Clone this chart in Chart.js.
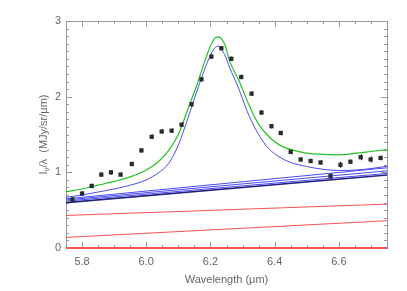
<!DOCTYPE html>
<html>
<head>
<meta charset="utf-8">
<script src="https://cdn.jsdelivr.net/npm/chart.js@4.4.1/dist/chart.umd.min.js"></script>
<style>
  html, body { margin: 0; padding: 0; background: #fff; }
  canvas { display: block; }
</style>
</head>
<body>
<canvas id="grafica" width="407" height="291"></canvas>
<script>
// observed spectrum (black squares)
const wl = [5.77, 5.80, 5.83, 5.86, 5.89, 5.92, 5.955, 5.985, 6.017, 6.048, 6.079, 6.11, 6.141, 6.172, 6.203, 6.234,
            6.265, 6.296, 6.328, 6.359, 6.39, 6.419, 6.45, 6.481, 6.512, 6.543, 6.574, 6.605, 6.636, 6.668, 6.699, 6.73];
const flux = [0.64, 0.72, 0.82, 0.97, 1.00, 0.97, 1.11, 1.29, 1.47, 1.54, 1.55, 1.63, 1.90, 2.23, 2.53, 2.64,
              2.50, 2.26, 2.04, 1.79, 1.61, 1.52, 1.27, 1.17, 1.15, 1.13, 0.95, 1.10, 1.14, 1.20, 1.17, 1.19];
const fluxErr = [0.03, 0.03, 0.03, 0.03, 0.03, 0.03, 0.03, 0.03, 0.03, 0.03, 0.03, 0.03, 0.03, 0.03, 0.03, 0.03,
                 0.03, 0.03, 0.03, 0.03, 0.03, 0.03, 0.03, 0.03, 0.03, 0.03, 0.04, 0.04, 0.03, 0.04, 0.04, 0.03];

// total model (green)
const totalWl = [5.75, 5.80, 5.85, 5.90, 5.95, 6.00, 6.04, 6.07, 6.10, 6.13, 6.16, 6.18, 6.20, 6.215, 6.225, 6.235,
                 6.245, 6.26, 6.29, 6.318, 6.348, 6.39, 6.42, 6.46, 6.50, 6.55, 6.60, 6.65, 6.70, 6.75];
const totalFlux = [0.745, 0.78, 0.83, 0.88, 0.94, 1.03, 1.15, 1.29, 1.50, 1.84, 2.18, 2.44, 2.67, 2.78, 2.79, 2.76,
                   2.69, 2.47, 2.20, 1.91, 1.65, 1.44, 1.35, 1.29, 1.255, 1.237, 1.232, 1.25, 1.275, 1.30];

// 6.2 um feature + continuum (blue)
const featWl = [5.75, 5.80, 5.85, 5.90, 5.95, 6.00, 6.04, 6.07, 6.10, 6.13, 6.16, 6.18, 6.20, 6.215, 6.225, 6.235,
                6.245, 6.26, 6.285, 6.30, 6.32, 6.35, 6.38, 6.42, 6.45, 6.50, 6.55, 6.60, 6.65, 6.70, 6.75];
const featFlux = [0.67, 0.70, 0.74, 0.78, 0.83, 0.90, 1.00, 1.12, 1.36, 1.72, 2.10, 2.34, 2.55, 2.65, 2.67, 2.62,
                  2.55, 2.38, 2.14, 1.97, 1.75, 1.50, 1.32, 1.19, 1.13, 1.077, 1.04, 1.025, 1.03, 1.05, 1.08];

// straight continuum components: value at 5.75 and at 6.75
const contStart = [0.65, 0.635, 0.62, 0.60];
const contEnd = [1.06, 1.02, 0.985, 0.965];
const redStart = [0.43, 0.14, 0.0];
const redEnd = [0.58, 0.36, 0.0];

const xMin = 5.75, xMax = 6.75;

function pares(xs, ys) {
    return xs.map((x, i) => ({ x: x, y: ys[i] }));
}

let datasets = [];
datasets.push({
    label: 'Observado',
    data: pares(wl, flux),
    showLine: false,
    pointStyle: 'rect',
    pointRadius: 3,
    backgroundColor: '#2a2a2a',
    borderColor: '#2a2a2a',
    borderWidth: 0
});
datasets.push({
    label: 'Total',
    data: pares(totalWl, totalFlux),
    showLine: true,
    borderColor: '#22c422',
    borderWidth: 1.2,
    pointRadius: 0,
    cubicInterpolationMode: 'monotone'
});
datasets.push({
    label: 'Banda 6.2',
    data: pares(featWl, featFlux),
    showLine: true,
    borderColor: '#4a4af5',
    borderWidth: 1,
    pointRadius: 0,
    cubicInterpolationMode: 'monotone'
});
contStart.forEach((v, i) => {
    let oscuro = i === contStart.length - 1;
    datasets.push({
        label: 'Continuo ' + i,
        data: [{ x: xMin, y: v }, { x: xMax, y: contEnd[i] }],
        showLine: true,
        borderColor: oscuro ? '#22227a' : '#4a4af5',
        borderWidth: oscuro ? 1.6 : 1,
        pointRadius: 0
    });
});
redStart.forEach((v, i) => {
    datasets.push({
        label: 'Rojo ' + i,
        data: [{ x: xMin, y: v }, { x: xMax, y: redEnd[i] }],
        showLine: true,
        borderColor: '#ff5050',
        borderWidth: i === redStart.length - 1 ? 2 : 1,
        pointRadius: 0,
        clip: 2
    });
});

const esMultiplo = (v, paso) => Math.abs(v / paso - Math.round(v / paso)) < 1e-6;

// box, inward ticks (IDL style) and error bars
const marcoPlugin = {
    id: 'marco',
    beforeDatasetsDraw(chart) {
        const ctx = chart.ctx;
        const a = chart.chartArea;
        const xs = chart.scales.x, ys = chart.scales.y;
        ctx.save();
        ctx.strokeStyle = '#999';
        ctx.lineWidth = 1;
        ctx.strokeRect(a.left + 0.5, a.top + 0.5, a.right - a.left, a.bottom - a.top);
        ctx.beginPath();
        for (let k = 0; k <= 20; k++) {
            let v = xMin + k * 0.05;
            let px = Math.round(xs.getPixelForValue(v)) + 0.5;
            let len = esMultiplo(v, 0.2) ? 6 : 3;
            ctx.moveTo(px, a.bottom); ctx.lineTo(px, a.bottom - len);
            ctx.moveTo(px, a.top); ctx.lineTo(px, a.top + len);
        }
        for (let k = 0; k <= 30; k++) {
            let v = k * 0.1;
            let py = Math.round(ys.getPixelForValue(v)) + 0.5;
            let len = k % 10 === 0 ? 6 : 3;
            ctx.moveTo(a.left, py); ctx.lineTo(a.left + len, py);
            ctx.moveTo(a.right, py); ctx.lineTo(a.right - len, py);
        }
        ctx.stroke();
        ctx.restore();
    },
    afterDatasetsDraw(chart) {
        const ctx = chart.ctx;
        const xs = chart.scales.x, ys = chart.scales.y;
        ctx.save();
        ctx.strokeStyle = '#2a2a2a';
        ctx.lineWidth = 1;
        wl.forEach((x, i) => {
            let px = Math.round(xs.getPixelForValue(x)) + 0.5;
            ctx.beginPath();
            ctx.moveTo(px, ys.getPixelForValue(flux[i] - fluxErr[i]));
            ctx.lineTo(px, ys.getPixelForValue(flux[i] + fluxErr[i]));
            ctx.stroke();
        });
        ctx.restore();
    },
    afterDraw(chart) {
        const ctx = chart.ctx;
        const a = chart.chartArea;
        // y title: I_nu / lambda (MJy/sr/um)
        ctx.save();
        ctx.fillStyle = '#666';
        ctx.translate(44, (a.top + a.bottom) / 2);
        ctx.rotate(-Math.PI / 2);
        ctx.textBaseline = 'middle';
        const f1 = '11px "Liberation Sans", Arial, sans-serif';
        const f2 = '8px "Liberation Sans", Arial, sans-serif';
        const piezas = [['I', f1, 0], ['\u03BD', f2, 3], ['/\u03BB  (MJy/sr/\u03BCm)', f1, 0]];
        let total = 0;
        piezas.forEach(p => { ctx.font = p[1]; total += ctx.measureText(p[0]).width; });
        let x = -total / 2;
        piezas.forEach(p => {
            ctx.font = p[1];
            ctx.fillText(p[0], x, p[2]);
            x += ctx.measureText(p[0]).width;
        });
        ctx.restore();
    }
};

let ctx = document.getElementById('grafica').getContext('2d');
new Chart(ctx, {
    type: 'scatter',
    data: { datasets: datasets },
    options: {
        responsive: false,
        animation: false,
        layout: { padding: { left: 0, right: 20, top: 21, bottom: 0 } },
        plugins: {
            legend: { display: false },
            tooltip: { enabled: false }
        },
        scales: {
            x: {
                type: 'linear',
                min: xMin,
                max: xMax,
                afterFit: scale => { scale.height = 43; },
                grid: { display: false, drawTicks: false },
                border: { display: false },
                ticks: {
                    stepSize: 0.05,
                    autoSkip: false,
                    maxRotation: 0,
                    padding: 7,
                    color: '#666',
                    font: { family: '"Liberation Sans", Arial, sans-serif', size: 11 },
                    callback: v => esMultiplo(v, 0.2) ? v.toFixed(1) : ''
                },
                title: {
                    display: true,
                    text: 'Wavelength (\u03BCm)',
                    color: '#666',
                    padding: { top: 1, bottom: 4 },
                    font: { family: '"Liberation Sans", Arial, sans-serif', size: 11 }
                }
            },
            y: {
                min: 0,
                max: 3,
                afterFit: scale => { scale.width = 66; },
                grid: { display: false, drawTicks: false },
                border: { display: false },
                ticks: {
                    stepSize: 0.1,
                    autoSkip: false,
                    padding: 5,
                    color: '#666',
                    font: { family: '"Liberation Sans", Arial, sans-serif', size: 11 },
                    callback: v => esMultiplo(v, 1) ? Math.round(v).toString() : ''
                }
            }
        }
    },
    plugins: [marcoPlugin]
});
</script>
</body>
</html>
